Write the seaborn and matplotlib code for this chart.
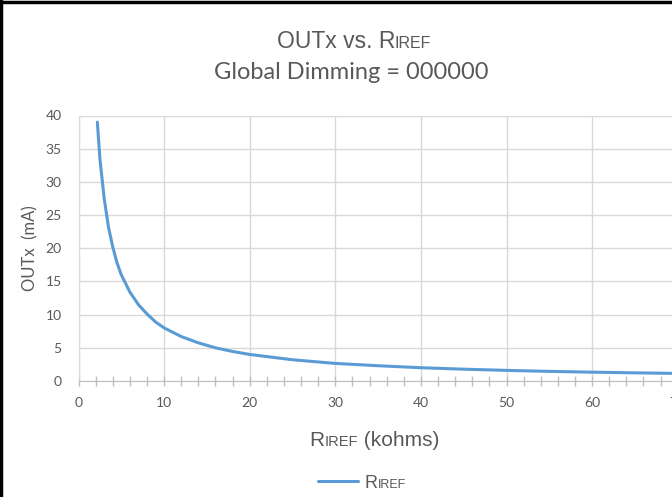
import numpy as np
import pandas as pd
import matplotlib
matplotlib.use("Agg")
import matplotlib.pyplot as plt
import seaborn as sns
from matplotlib.lines import Line2D
from matplotlib.offsetbox import TextArea, HPacker, AnchoredOffsetbox

# values
r_iref = [2.2, 2.5, 3, 3.5, 4, 4.5, 5, 6, 7, 8, 9, 10, 12, 14, 16, 18, 20,
          25, 30, 35, 40, 45, 50, 55, 60, 65, 70, 75, 80]
out_ma = [39.0, 33.5, 27.5, 23.2, 20.2, 17.8, 16.0, 13.4, 11.5, 10.1, 8.9, 8.0,
          6.7, 5.75, 5.0, 4.45, 4.0, 3.2, 2.65, 2.3, 2.0, 1.78, 1.6, 1.45,
          1.33, 1.23, 1.14, 1.07, 1.0]
x_ticks = [0, 10, 20, 30, 40, 50, 60, 70, 80]
y_ticks = [0, 5, 10, 15, 20, 25, 30, 35, 40]

W, H = 672, 497
GRAY_TEXT = "#595959"
LINE_BLUE = "#5B9BD5"
GRID = "#d9d9d9"
ARIAL = ["Liberation Sans", "DejaVu Sans"]

sns.set_style("white")
plt.rcParams["font.family"] = ["Lato", "DejaVu Sans"]


def rich(pieces, family, color):
    """Text pieces of different sizes sharing one baseline."""
    boxes = [TextArea(s, textprops=dict(size=sz, family=family, color=color))
             for s, sz in pieces]
    return HPacker(children=boxes, align="baseline", pad=0, sep=0)


def place(fig, packer, x_px, y_px, loc="center"):
    box = AnchoredOffsetbox(loc=loc, child=packer, pad=0, borderpad=0,
                            frameon=False,
                            bbox_to_anchor=(x_px / W, 1 - y_px / H),
                            bbox_transform=fig.transFigure)
    fig.add_artist(box)


fig = plt.figure(figsize=(W / 100, H / 100), dpi=100)
ax = fig.add_axes([78.5 / W, 116 / H, 684.8 / W, 265.5 / H])

df = pd.DataFrame({"R": r_iref, "I": out_ma})
sns.lineplot(data=df, x="R", y="I", ax=ax, color=LINE_BLUE, linewidth=2.2,
             label=" ")

ax.set_xlim(0, 80)
ax.set_ylim(0, 40)
ax.set_xticks(x_ticks)
ax.set_xticks(np.arange(0, 81, 2), minor=True)
ax.set_yticks(y_ticks)
ax.set_xlabel("")
ax.set_ylabel("")
ax.set_axisbelow(True)
ax.grid(True, which="major", color=GRID, linewidth=1)

for side in ["top", "right"]:
    ax.spines[side].set_visible(False)
ax.spines["left"].set_color(GRID)
ax.spines["bottom"].set_color("#bfbfbf")

ax.tick_params(axis="x", which="both", bottom=True, direction="inout",
               length=7, width=1, color="#bfbfbf", labelsize=10,
               labelcolor=GRAY_TEXT, pad=8)
ax.tick_params(axis="y", left=False, length=0, labelsize=10,
               labelcolor=GRAY_TEXT, pad=12)

# titles
place(fig, rich([("OUTx vs. R", 16.5), ("IREF", 11.5)], ARIAL, GRAY_TEXT), 354, 42)
place(fig, rich([("Global Dimming = 000000", 17)], ["Lato"], GRAY_TEXT), 351, 72)

# axis titles
place(fig, rich([("R", 15), ("IREF", 10.5), (" (kohms)", 15)], ARIAL, GRAY_TEXT),
      374, 440)
fig.text(30 / W, 1 - 248 / H, "OUTx  (mA)", rotation=90, ha="center",
         va="center", size=12, color=GRAY_TEXT)

# legend: handle from the plotted line, label drawn as rich text
leg = ax.legend(loc="center left", bbox_to_anchor=(318 / W, 1 - 483 / H),
                bbox_transform=fig.transFigure, frameon=False,
                prop=dict(family=ARIAL, size=13), handlelength=2.2,
                handletextpad=0.6, borderpad=0, borderaxespad=0)
place(fig, rich([("R", 13), ("IREF", 9)], ARIAL, GRAY_TEXT), 365, 483,
      loc="center left")

# black frame edges visible in the crop
fig.add_artist(Line2D([1 / W, 1 / W], [0, 1], transform=fig.transFigure,
                      color="black", linewidth=2.5))
fig.add_artist(Line2D([0, 1], [1 - 1.5 / H, 1 - 1.5 / H],
                      transform=fig.transFigure, color="black", linewidth=2.5))

fig.savefig("out.png", dpi=100)
